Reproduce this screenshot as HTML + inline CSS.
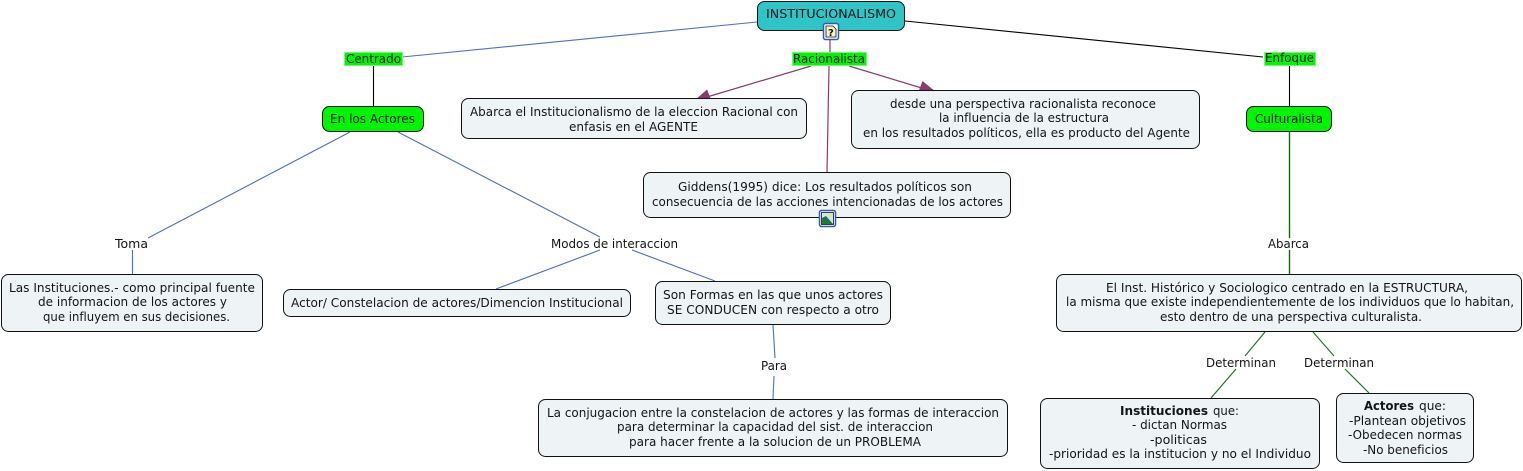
<!DOCTYPE html>
<html lang="es">
<head>
<meta charset="utf-8">
<title>INSTITUCIONALISMO</title>
<style>
html,body{margin:0;padding:0;background:#fff;width:1523px;height:471px;overflow:hidden}
svg{display:block}
text{font-family:"DejaVu Sans","Liberation Sans",sans-serif;font-size:12px;fill:#141414}
.b{fill:#eef4f6;stroke:#111;stroke-width:1}
.g{fill:#00f500;stroke:#111;stroke-width:1}
.l{fill:#00f500;stroke:#7cf57c;stroke-width:1}
.bl{stroke:#4a70c8;stroke-width:1.1;fill:none}
.pu{stroke:#8b3a6b;stroke-width:1.2;fill:none}
.bk{stroke:#000;stroke-width:1.1;fill:none}
.gr{stroke:#1f7a1f;stroke-width:1.2;fill:none}
.gv{stroke:#0c6e0c;stroke-width:1.4;fill:none}
</style>
</head>
<body>
<svg width="1523" height="471" viewBox="0 0 1523 471" xmlns="http://www.w3.org/2000/svg">
<!-- connectors -->
<path class="bl" d="M757 22L402 57M350 132L148 238M132.500 250V274M398 132L600 237M600 250L496 289M632 250L715 281M773 325L775 358M774 376L773 399"/>
<path class="bk" d="M905 21L1263 57M373.500 66V106M1289.500 66V106"/>
<path class="pu" d="M830 40V52M829 66L827 172M811 66L707 97M849 66L925 89"/>
<polygon points="694,101 707,89.500 712,102" fill="#8b3a6b"/>
<polygon points="936,92 922.500,81 918,93" fill="#8b3a6b"/>
<path class="gv" d="M1289.500 132V238M1289.500 250V274"/>
<path class="gr" d="M1265 332L1245 356M1236 369L1211 398M1313 332L1334 356M1345 369L1369 393"/>

<!-- link labels with green bg -->
<rect class="l" x="344.500" y="52.500" width="58" height="13"/>
<rect class="l" x="792.500" y="52.500" width="74" height="13"/>
<rect class="l" x="1264.500" y="52.500" width="51" height="13"/>
<text x="346" y="63" textLength="55" lengthAdjust="spacingAndGlyphs">Centrado</text>
<text x="793" y="63" textLength="72" lengthAdjust="spacingAndGlyphs">Racionalista</text>
<text x="1265" y="62" textLength="49" lengthAdjust="spacingAndGlyphs">Enfoque</text>

<!-- root -->
<rect x="757.500" y="1.500" width="147" height="29" rx="7" fill="#2fc5c7" stroke="#111"/>
<text x="766" y="18" textLength="130" lengthAdjust="spacingAndGlyphs">INSTITUCIONALISMO</text>
<!-- note icon -->
<rect x="823.500" y="23.500" width="15" height="16" rx="2" fill="#fff" stroke="#2a5fb0" stroke-width="1.500"/>
<path d="M826 26H833L836 29V37H826Z" fill="#f6f3c8" stroke="#111" stroke-width=".8"/>
<text x="828" y="36" style="font-size:10px;font-weight:bold">?</text>

<!-- green nodes -->
<rect class="g" x="322.500" y="106.500" width="101" height="25" rx="7"/>
<text x="330" y="123" textLength="85" lengthAdjust="spacingAndGlyphs">En los Actores</text>
<rect class="g" x="1246.500" y="106.500" width="85" height="25" rx="7"/>
<text x="1255" y="123" textLength="68" lengthAdjust="spacingAndGlyphs">Culturalista</text>

<!-- Abarca -->
<rect class="b" x="461.500" y="98.500" width="345" height="40" rx="7"/>
<text x="470" y="116" textLength="328" lengthAdjust="spacingAndGlyphs">Abarca el Institucionalismo de la eleccion Racional con</text>
<text x="569" y="131" textLength="129" lengthAdjust="spacingAndGlyphs">enfasis en el AGENTE</text>

<!-- desde -->
<rect class="b" x="851.500" y="90.500" width="348" height="58" rx="7"/>
<text x="890" y="108" textLength="266" lengthAdjust="spacingAndGlyphs">desde una perspectiva racionalista reconoce</text>
<text x="939" y="122" textLength="170" lengthAdjust="spacingAndGlyphs">la influencia de la estructura</text>
<text x="863" y="137" textLength="327" lengthAdjust="spacingAndGlyphs">en los resultados políticos, ella es producto del Agente</text>

<!-- Giddens -->
<rect class="b" x="643.500" y="172.500" width="367" height="45" rx="7"/>
<text x="678" y="191" textLength="294" lengthAdjust="spacingAndGlyphs">Giddens(1995) dice: Los resultados políticos son</text>
<text x="652" y="206" textLength="351" lengthAdjust="spacingAndGlyphs">consecuencia de las acciones intencionadas de los actores</text>
<!-- image icon -->
<rect x="819.500" y="210.500" width="16" height="16" rx="2" fill="#fff" stroke="#2a5fb0" stroke-width="1.500"/>
<rect x="821.500" y="212.500" width="12" height="12" fill="#cfe3f2" stroke="#111" stroke-width=".8"/>
<circle cx="830.500" cy="215.500" r="1.500" fill="#f2e27a"/>
<polygon points="822,224 822,218 826,216 833,224" fill="#1f7a3a"/>

<!-- Toma -->
<text x="115" y="248" textLength="33" lengthAdjust="spacingAndGlyphs">Toma</text>
<rect class="b" x="1.500" y="274.500" width="261" height="57" rx="7"/>
<text x="9" y="292" textLength="246" lengthAdjust="spacingAndGlyphs">Las Instituciones.- como principal fuente</text>
<text x="38" y="306" textLength="189" lengthAdjust="spacingAndGlyphs">de informacion de los actores y</text>
<text x="43" y="321" textLength="187" lengthAdjust="spacingAndGlyphs">que influyem en sus decisiones.</text>

<!-- Modos -->
<text x="551" y="248" textLength="127" lengthAdjust="spacingAndGlyphs">Modos de interaccion</text>
<rect class="b" x="283.500" y="289.500" width="347" height="27" rx="7"/>
<text x="291" y="307" textLength="332" lengthAdjust="spacingAndGlyphs">Actor/ Constelacion de actores/Dimencion Institucional</text>
<rect class="b" x="655.500" y="281.500" width="235" height="43" rx="7"/>
<text x="663" y="299" textLength="220" lengthAdjust="spacingAndGlyphs">Son Formas en las que unos actores</text>
<text x="667" y="314" textLength="212" lengthAdjust="spacingAndGlyphs">SE CONDUCEN con respecto a otro</text>

<!-- Para -->
<text x="761" y="370" textLength="26" lengthAdjust="spacingAndGlyphs">Para</text>
<rect class="b" x="538.500" y="399.500" width="469" height="57" rx="7"/>
<text x="547" y="417" textLength="452" lengthAdjust="spacingAndGlyphs">La conjugacion entre la constelacion de actores y las formas de interaccion</text>
<text x="617" y="431" textLength="316" lengthAdjust="spacingAndGlyphs">para determinar la capacidad del sist. de interaccion</text>
<text x="629" y="446" textLength="292" lengthAdjust="spacingAndGlyphs">para hacer frente a la solucion de un PROBLEMA</text>

<!-- Abarca right -->
<text x="1268" y="248" textLength="41" lengthAdjust="spacingAndGlyphs">Abarca</text>
<rect class="b" x="1056.500" y="274.500" width="465" height="57" rx="7"/>
<text x="1106" y="292" textLength="362" lengthAdjust="spacingAndGlyphs">El Inst. Histórico y Sociologico centrado en la ESTRUCTURA,</text>
<text x="1066" y="306" textLength="448" lengthAdjust="spacingAndGlyphs">la misma que existe independientemente de los individuos que lo habitan,</text>
<text x="1160" y="321" textLength="262" lengthAdjust="spacingAndGlyphs">esto dentro de una perspectiva culturalista.</text>

<text x="1206" y="367" textLength="70" lengthAdjust="spacingAndGlyphs">Determinan</text>
<text x="1304" y="367" textLength="70" lengthAdjust="spacingAndGlyphs">Determinan</text>

<!-- Instituciones -->
<rect class="b" x="1040.500" y="398.500" width="279" height="70" rx="7"/>
<text x="1120" y="415" textLength="88" lengthAdjust="spacingAndGlyphs" style="font-weight:bold">Instituciones</text>
<text x="1213" y="415" textLength="26" lengthAdjust="spacingAndGlyphs">que:</text>
<text x="1132" y="429" textLength="95" lengthAdjust="spacingAndGlyphs">- dictan Normas</text>
<text x="1150" y="444" textLength="57" lengthAdjust="spacingAndGlyphs">-politicas</text>
<text x="1049" y="458" textLength="262" lengthAdjust="spacingAndGlyphs">-prioridad es la institucion y no el Individuo</text>

<!-- Actores -->
<rect class="b" x="1336.500" y="393.500" width="137" height="69" rx="7"/>
<text x="1364" y="410" textLength="50" lengthAdjust="spacingAndGlyphs" style="font-weight:bold">Actores</text>
<text x="1419" y="410" textLength="27" lengthAdjust="spacingAndGlyphs">que:</text>
<text x="1349" y="425" textLength="117" lengthAdjust="spacingAndGlyphs">-Plantean objetivos</text>
<text x="1348" y="439" textLength="114" lengthAdjust="spacingAndGlyphs">-Obedecen normas</text>
<text x="1363" y="454" textLength="85" lengthAdjust="spacingAndGlyphs">-No beneficios</text>
</svg>
</body>
</html>
